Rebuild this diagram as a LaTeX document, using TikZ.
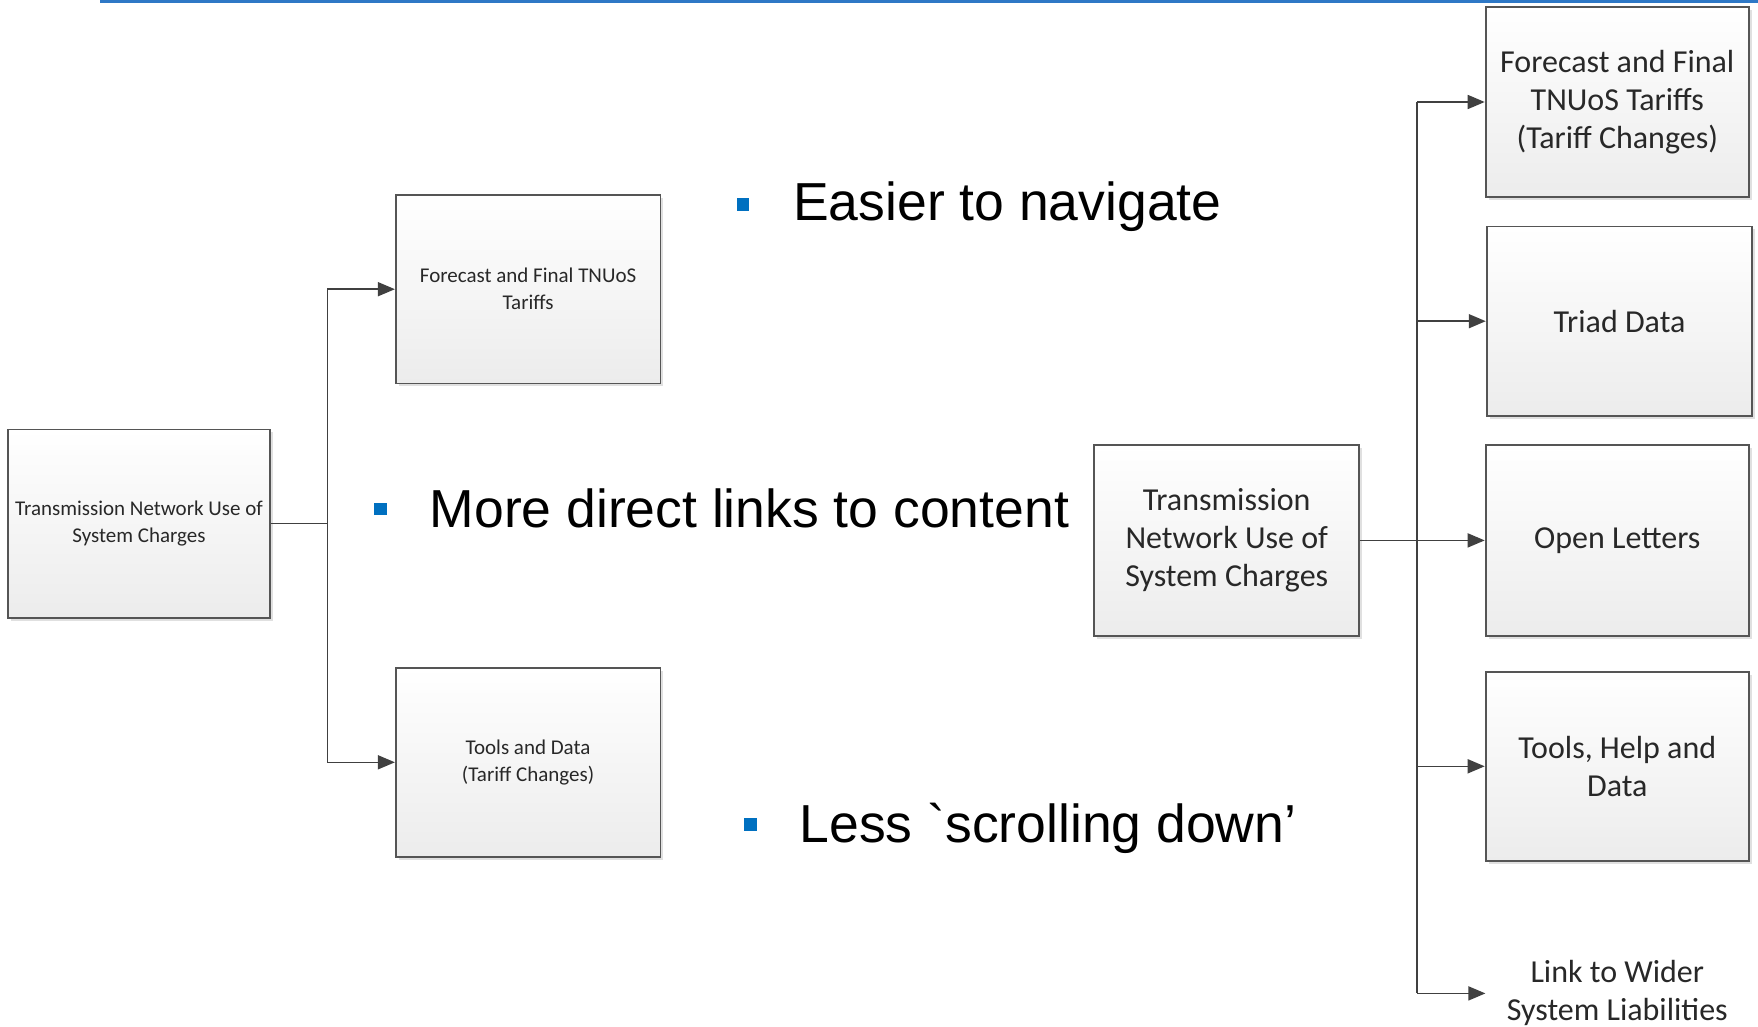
\documentclass[tikz,border=0pt]{standalone}
\usepackage{fontspec}
\usetikzlibrary{arrows.meta,shadows}
\newfontfamily\boxfont{Carlito}
\newfontfamily\bulfont{Liberation Sans}
\definecolor{topblue}{RGB}{46,120,198}
\definecolor{bulblue}{RGB}{0,112,192}
\definecolor{boxborder}{RGB}{85,85,85}
\definecolor{boxbottom}{RGB}{236,236,236}
\definecolor{linkcol}{RGB}{64,64,64}
\definecolor{boxtext}{RGB}{40,40,40}
\begin{document}
\begin{tikzpicture}[x=1pt,y=-1pt,
 boxstyle/.style={draw=boxborder, line width=1.8pt, top color=white, bottom color=boxbottom, inner sep=0pt, align=center, text=boxtext,
   drop shadow={shadow xshift=3pt, shadow yshift=-3pt, fill=black, opacity=0.12}},
 smallbox/.style={boxstyle, font=\boxfont\fontsize{21}{27}\selectfont},
 bigbox/.style={boxstyle, font=\boxfont\fontsize{32}{38}\selectfont},
 plaintext/.style={inner sep=0pt, align=center, text=boxtext, font=\boxfont\fontsize{32}{38}\selectfont},
 link/.style={draw=linkcol, line width=1.6pt},
 arr/.style={link, -{Triangle[length=17pt,width=14pt]}},
 bullet/.style={fill=bulblue, minimum size=12.5pt, inner sep=0pt},
 bultext/.style={font=\bulfont\fontsize{53.5}{60}\selectfont, anchor=base west, inner sep=0pt}
]
\useasboundingbox (0,0) rectangle (1758,1027);
\fill[white] (0,0) rectangle (1758,1027);
\draw[topblue, line width=3pt] (100,1.5) -- (1758,1.5);

% left tree
\node[smallbox, minimum width=262.4pt, minimum height=188.4pt] (L) at (139,523.6)
  {Transmission Network Use of\\System Charges};
\node[smallbox, minimum width=264.6pt, minimum height=188.4pt] (F1) at (528.1,289.2)
  {Forecast and Final TNUoS\\Tariffs};
\node[smallbox, minimum width=264.6pt, minimum height=188.6pt] (T1) at (528.1,762.3)
  {Tools and Data\\(Tariff Changes)};
\coordinate (ltrunk) at (327.4,523.6);
\draw[link] (L.east) -- (ltrunk);
\draw[arr] (ltrunk) |- (F1.west);
\draw[arr] (ltrunk) |- (T1.west);

% bullets
\node[bullet] (b1) at (742.8,204.6) {};
\node[bultext] (t1) at (793,221) {Easier to navigate};
\node[bullet] (b2) at (380.6,508.8) {};
\node[bultext] (t2) at (429.5,527) {More direct links to content};
\node[bullet] (b3) at (750.6,824.6) {};
\node[bultext] (t3) at (799.5,842) {Less `scrolling down’};

% right tree
\node[bigbox, minimum width=264.7pt, minimum height=190.7pt] (M) at (1226.7,540.4)
  {Transmission\\Network Use of\\System Charges};
\node[bigbox, minimum width=263.4pt, minimum height=190.6pt] (R1) at (1617.3,102)
  {Forecast and Final\\TNUoS Tariffs\\(Tariff Changes)};
\node[bigbox, minimum width=265.7pt, minimum height=189.5pt] (R2) at (1619.5,321.2)
  {Triad Data};
\node[bigbox, minimum width=263.4pt, minimum height=190.7pt] (R3) at (1617.3,540.4)
  {Open Letters};
\node[bigbox, minimum width=263.4pt, minimum height=189.4pt] (R4) at (1617.3,766.3)
  {Tools, Help and\\Data};
\node[plaintext, minimum width=263.4pt] (R5) at (1617.3,993.4)
  {Link to Wider\\System Liabilities};
\coordinate (rtop) at (1417,102);
\coordinate (rbot) at (1417,993.4);
\draw[link] (rtop) -- (rbot);
\draw[arr] (rtop) -- (R1.west);
\draw[arr] (R2.west -| rtop) -- (R2.west);
\draw[arr] (M.east) -- (R3.west);
\draw[arr] (R4.west -| rtop) -- (R4.west);
\draw[arr] (rbot) -- (R5.west);
\end{tikzpicture}
\end{document}
